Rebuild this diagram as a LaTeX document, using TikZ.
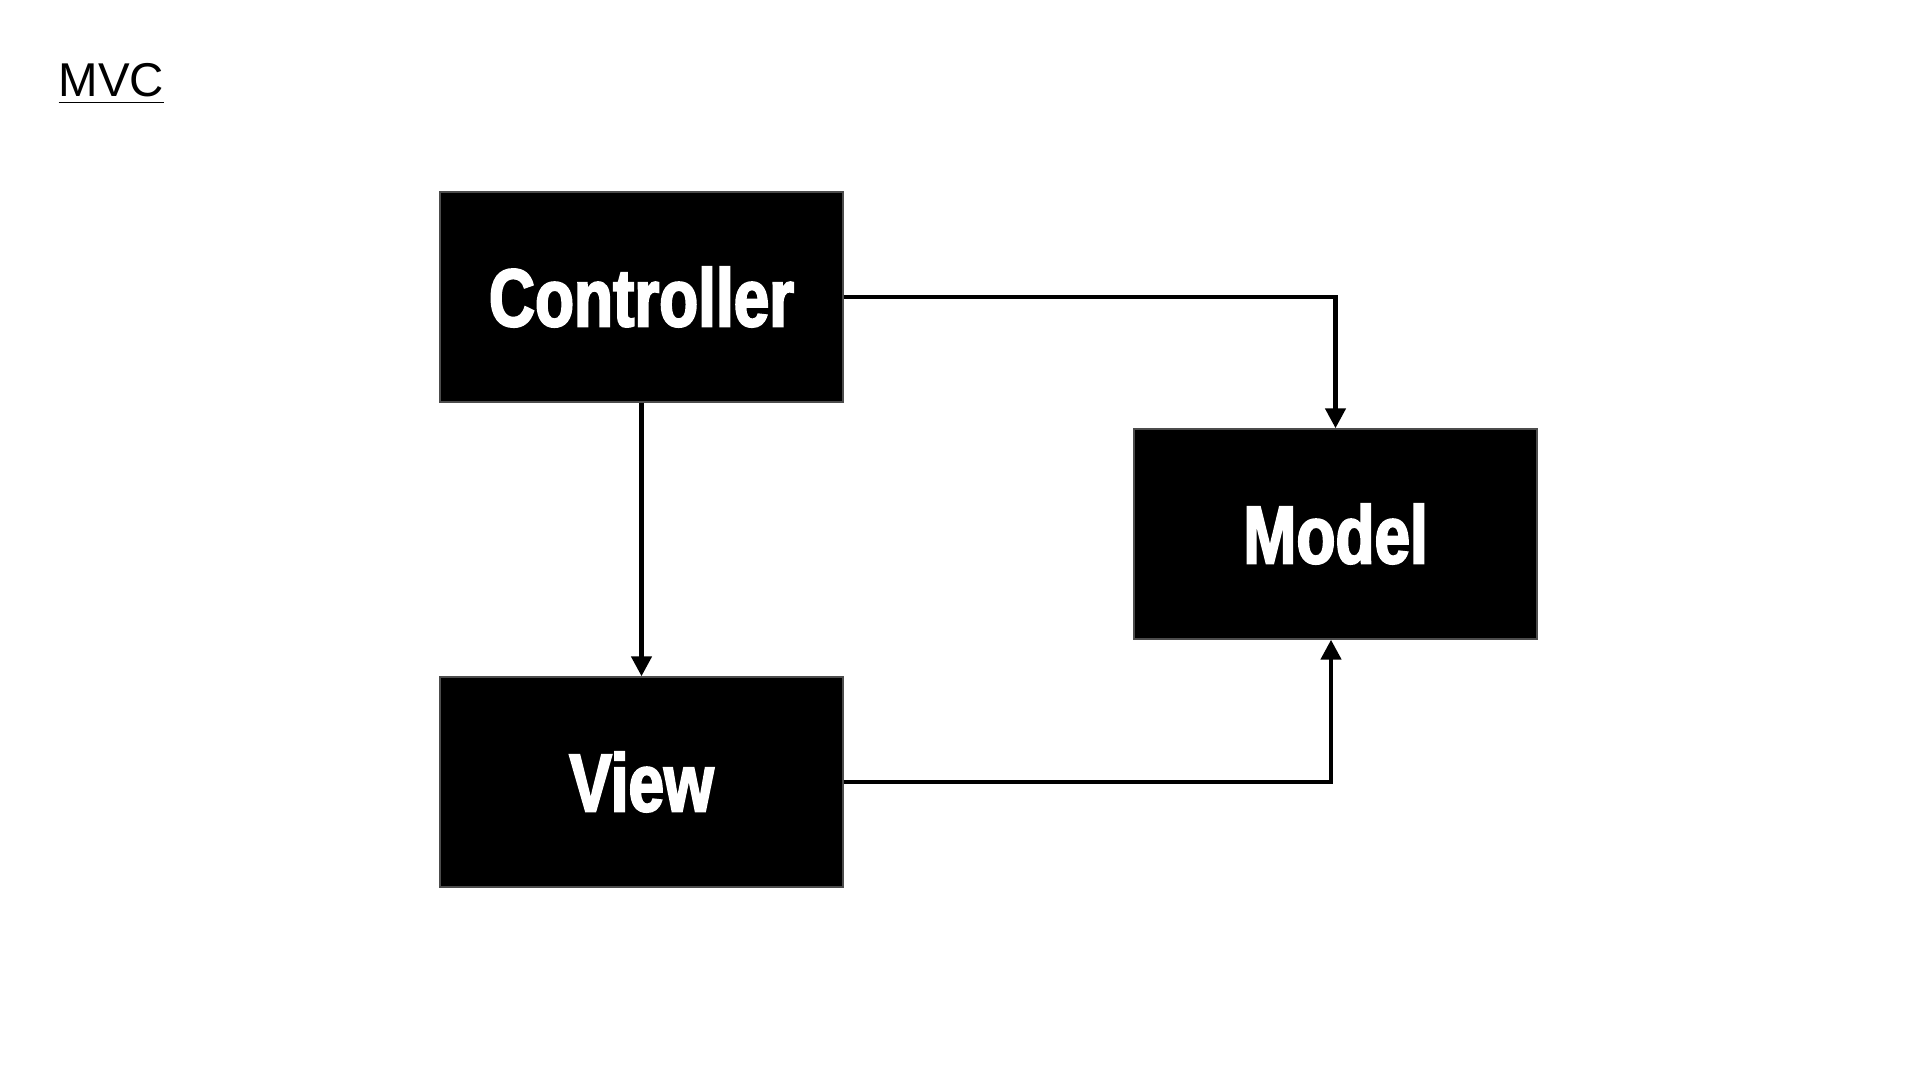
\documentclass[tikz,border=0pt]{standalone}
\usepackage{fontspec}
\setmainfont{Liberation Sans}
\newfontfamily\boxfont[FakeStretch=0.78,BoldFeatures={FakeBold=2.5}]{Liberation Sans}
\usetikzlibrary{arrows.meta}
\usetikzlibrary{positioning}

\begin{document}
\begin{tikzpicture}
\useasboundingbox (0,0) rectangle (19.2,10.8);
\node[anchor=base west,inner sep=0pt,font=\fontsize{13.5pt}{16pt}\selectfont] (title) at (0.58,9.83) {\underline{MVC}};
\begin{scope}[every node/.style={rectangle,fill=black,draw=black!70,minimum width=4.03cm,minimum height=2.10cm,text=white,font=\boxfont\bfseries\fontsize{23.3pt}{28pt}\selectfont}]
    \node (C) at (6.415,7.83) {Controller};
    \node (M) at (13.355,5.46) {Model};
    \node (V) at (6.415,2.98) {View};
\end{scope}
\begin{scope}[>={Triangle[length=2mm,width=2mm]},
              link/.style={draw=black,line width=1.3pt}]
    \draw [link,->] (C) -| (M);
    \draw [link,->] (C) -- (V);
    \draw [link,->] (V) -| ([xshift=-0.045cm]M.south);
\end{scope}
\end{tikzpicture}
\end{document}
